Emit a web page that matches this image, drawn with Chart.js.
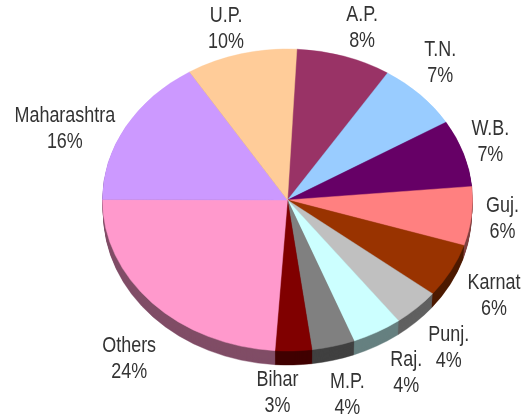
<!DOCTYPE html>
<html><head><meta charset="utf-8">
<style>html,body{margin:0;padding:0;background:#fff}#w{width:531px;height:418px;position:relative}</style>
<script src="https://cdn.jsdelivr.net/npm/chart.js@4"></script>
</head><body><div id="w"><canvas id="c"></canvas></div>
<script>
const categories = ["A.P.","T.N.","W.B.","Guj.","Karnat","Punj.","Raj.","M.P.","Bihar","Others","Maharashtra","U.P."];
const shareLabels = ["8%","7%","7%","6%","6%","4%","4%","4%","3%","24%","16%","10%"];
const shares = [8.3,7.3,7.2,6.3,5.8,4.1,4.4,3.75,3.2,24,16.1,9.7];
const faceColors = ["#993366","#99CCFF","#660066","#FF8080","#993300","#C0C0C0","#CCFFFF","#808080","#800000","#FF99CC","#CC99FF","#FFCC99"];
const sideColors = ["#4D1A33","#4D6680","#330033","#804040","#4D1A00","#606060","#668080","#404040","#400000","#804D66","#664D80","#80664D"];
const labelDx = [18,20,27,31,43,32,29,14,-16,-23,-61,-15];
const labelDy = [-28,-32,-11,3,25,40,41,49,42,56,3,-25];
const SQUASH = 151/185, DEPTH = 14, RADIUS = 185, NARROW = 0.835;

function squash(ctx, cx, cy, d, sx){
  ctx.translate(cx, cy + d); ctx.scale(sx, SQUASH); ctx.translate(-cx, -cy);
}
const tilt = {
  id:'tilt',
  beforeDatasetsDraw(chart){
    const ctx = chart.ctx, arcs = chart.getDatasetMeta(0).data;
    const cx = arcs[0].x, cy = arcs[0].y;
    for(let d = DEPTH; d >= 1; d--){
      ctx.save(); squash(ctx, cx, cy, d, 1 - 0.006*d/DEPTH);
      arcs.forEach((a,i)=>{
        const o = a.options;
        a.options = Object.assign({}, o, {backgroundColor: sideColors[i], borderColor: sideColors[i]});
        a.draw(ctx);
        a.options = o;
      });
      ctx.restore();
    }
    ctx.save(); squash(ctx, cx, cy, 0, 1);
  },
  afterDatasetsDraw(chart){
    const ctx = chart.ctx; ctx.restore();
    const arcs = chart.getDatasetMeta(0).data;
    const cx = arcs[0].x, cy = arcs[0].y;
    ctx.save();
    ctx.font = '21.5px "Liberation Sans"';
    ctx.fillStyle = '#333333'; ctx.textAlign='center'; ctx.textBaseline='middle';
    const put = (t,x,y)=>{ ctx.save(); ctx.translate(x,y); ctx.scale(NARROW,1); ctx.fillText(t,0,0); ctx.restore(); };
    arcs.forEach((a,i)=>{
      const mid = (a.startAngle + a.endAngle)/2;
      const x = cx + RADIUS*Math.cos(mid) + labelDx[i];
      const y = cy + RADIUS*SQUASH*Math.sin(mid) + labelDy[i];
      put(categories[i], x, y-13);
      put(shareLabels[i], x, y+13);
    });
    ctx.restore();
  }
};
new Chart(document.getElementById('c'),{
  type:'pie',
  data:{labels:categories,datasets:[{data:shares,backgroundColor:faceColors,borderColor:faceColors,borderWidth:0.5,radius:RADIUS,rotation:2.9}]},
  options:{responsive:true,maintainAspectRatio:false,animation:false,
    layout:{padding:{left:44,bottom:18}},
    plugins:{legend:{display:false},tooltip:{enabled:false}}},
  plugins:[tilt]
});
</script></body></html>
